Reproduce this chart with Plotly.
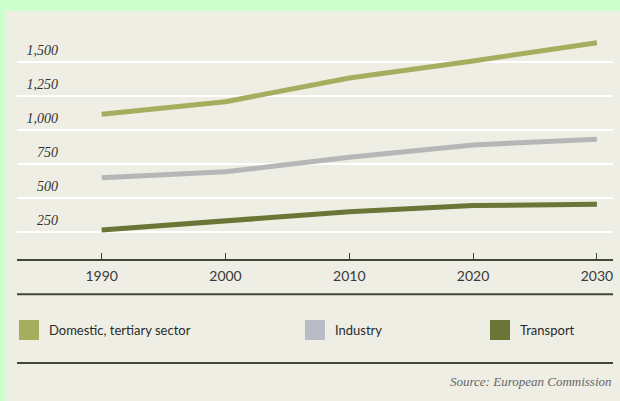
import plotly.graph_objects as go

# ---- data ----
years = [1990, 2000, 2010, 2020, 2030]
domestic = [1113, 1206, 1380, 1505, 1640]
industry = [647, 691, 797, 888, 929]
transport = [262, 331, 397, 443, 451]

series_names = ["Domestic, tertiary sector", "Industry", "Transport"]
line_colors = ["#a7ad5f", "#b6b6b6", "#6b7536"]
legend_colors = ["#a6ad5c", "#b9bcc6", "#6b7536"]

y_ticks = [250, 500, 750, 1000, 1250, 1500]
x_ticks = [1990, 2000, 2010, 2020, 2030]
x_ticktext = ["1990", "2000", "2010", "2020", "2030"]

# ---- layout geometry (pixels) ----
W, H = 620, 401
L, R, T, B = 17, 7, 20, 142
PW, PH = W - L - R, H - T - B


def px(xp):
    return (xp - L) / PW


def py(yp):
    return (H - B - yp) / PH


fig = go.Figure()

for name, vals, col in zip(series_names, [domestic, industry, transport], line_colors):
    fig.add_trace(go.Scatter(
        x=years, y=vals, mode="lines", name=name,
        line=dict(color=col, width=5), showlegend=False, hoverinfo="x+y+name"))

legend_ids = ["legend", "legend2", "legend3"]
for name, col, lid in zip(series_names, legend_colors, legend_ids):
    fig.add_trace(go.Scatter(
        x=[None], y=[None], mode="markers", name=name, legend=lid,
        marker=dict(symbol="square", size=16, color=col, line=dict(color=col, width=4)),
        showlegend=True))

legend_font = dict(family="Lato", size=13, color="#2a2a2a")
legend_common = dict(orientation="h", yanchor="middle", y=py(330), xanchor="left",
                     bgcolor="rgba(0,0,0,0)", borderwidth=0, font=legend_font)

fig.update_layout(
    width=W, height=H,
    margin=dict(l=L, r=R, t=T, b=B, pad=0),
    paper_bgcolor="#ccffcc",
    plot_bgcolor="rgba(0,0,0,0)",
    showlegend=True,
    legend=dict(x=px(29) - 20 / PW, **legend_common),
    legend2=dict(x=px(315) - 20 / PW, **legend_common),
    legend3=dict(x=px(500) - 20 / PW, **legend_common),
    xaxis=dict(
        range=[1983.16, 2031.3], tickvals=x_ticks, ticktext=x_ticktext,
        showgrid=False, zeroline=False,
        showline=True, linecolor="#45463a", linewidth=2,
        ticks="inside", ticklen=6, tickwidth=1, tickcolor="#45463a",
        ticklabelstandoff=3,
        tickfont=dict(family="Lato", size=14, color="#3a3a3a"),
    ),
    yaxis=dict(
        range=[49.3, 1806.6], tickvals=y_ticks, tickformat=",",
        anchor="free", position=px(58),
        showgrid=True, gridcolor="#ffffff", gridwidth=2,
        zeroline=False, showline=False, ticks="",
        ticklabelshift=-12,
        tickfont=dict(family="Liberation Serif", size=14, color="#333333", style="italic"),
    ),
    shapes=[
        dict(type="rect", xref="paper", yref="paper", layer="below",
             x0=px(5), x1=px(621), y0=py(402), y1=py(11),
             fillcolor="#eeeee4", line=dict(width=0)),
        dict(type="line", xref="paper", yref="paper",
             x0=px(17), x1=px(613), y0=py(294.3), y1=py(294.3),
             line=dict(color="#45463a", width=2)),
        dict(type="line", xref="paper", yref="paper",
             x0=px(17), x1=px(613), y0=py(363), y1=py(363),
             line=dict(color="#45463a", width=2)),
    ],
    annotations=[
        dict(text="Source: European Commission", xref="paper", yref="paper",
             x=px(614), y=py(381), xanchor="right", yanchor="middle", showarrow=False,
             font=dict(family="Liberation Serif", size=13, color="#666666", style="italic")),
    ],
)

fig.write_html("out.html", config={"displayModeBar": False},
               post_script="document.body.style.margin='0';")
